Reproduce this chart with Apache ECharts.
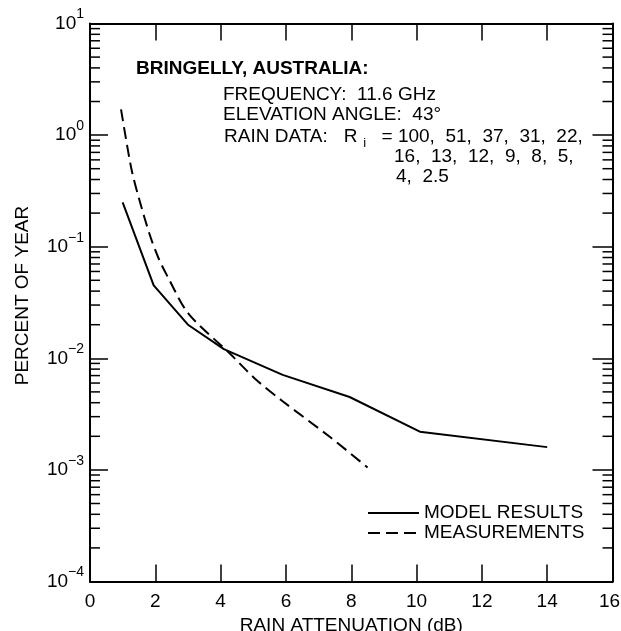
<!DOCTYPE html>
<html>
<head>
<meta charset="utf-8">
<script src="https://cdn.jsdelivr.net/npm/echarts@6/dist/echarts.min.js"></script>
<style>
  html, body { margin: 0; padding: 0; background: #fff; }
  #chart { width: 621px; height: 631px; }
</style>
</head>
<body>
<div id="chart"></div>
<script>
const FONT = '"Liberation Sans", Arial, Helvetica, sans-serif';

// Rain attenuation (dB) vs. percent of year exceeded
const modelAtten   = [1.0, 1.95, 3.0, 4.1, 5.9, 7.95, 10.1, 14.0];
const modelPercent = [0.25, 0.045, 0.020, 0.0121, 0.0071, 0.0045, 0.0022, 0.0016];

const measAtten   = [0.95, 1.1, 1.28, 1.5, 1.83, 2.09, 2.39, 3.02, 4.26, 5.07, 5.91, 7.37, 8.5];
const measPercent = [1.7, 0.93, 0.48, 0.27, 0.128, 0.080, 0.053, 0.025, 0.0112, 0.0065, 0.0041, 0.00195, 0.00105];

const seriesNames = ['MODEL RESULTS', 'MEASUREMENTS'];

// Axis ranges
const xMin = 0, xMax = 16, xStep = 2;
const yMin = 1e-4, yMax = 10;

// Intermediate log ticks (2..9 within each decade)
const minorTicks = [];
for (let k = -4; k <= 0; k++) {
  for (let m = 2; m <= 9; m++) {
    minorTicks.push(Number((m * Math.pow(10, k)).toPrecision(3)));
  }
}

const zip = (xs, ys) => xs.map((x, i) => [x, ys[i]]);

function decadeLabel(v) {
  const e = Math.round(Math.log10(v));
  const s = e < 0 ? '\u2212' + (-e) : String(e);
  return '{b|10}{s|' + s + '}';
}

function attenLabel(v) {
  // keep the last label inside the canvas
  return v === xMax ? '{e|' + v + '}' : String(v);
}

const axisLineStyle = { color: '#000', width: 2 };
const tickStyle = { color: '#000', width: 1.5 };
const MINOR_LEN = 10;
const clear = 'rgba(0,0,0,0)';

const chart = echarts.init(document.getElementById('chart'), null, { renderer: 'canvas' });

chart.setOption({
  animation: false,
  backgroundColor: '#fff',
  grid: { left: 90, right: 8.5, top: 23.5, bottom: 49.5, containLabel: false, outerBoundsMode: 'none' },
  legend: {
    data: seriesNames,
    orient: 'vertical',
    left: 367,
    top: 503,
    padding: 0,
    itemWidth: 51,
    itemHeight: 14,
    itemGap: 0,
    selectedMode: false,
    itemStyle: { color: clear, borderColor: clear, borderWidth: 0, opacity: 0 },
    textStyle: { fontSize: 19, fontFamily: FONT, color: '#000', lineHeight: 20 }
  },
  xAxis: [
    {
      type: 'value', min: xMin, max: xMax, interval: xStep, position: 'bottom',
      axisLine: { show: true, onZero: false, lineStyle: axisLineStyle },
      axisTick: { show: true, inside: true, length: 17, lineStyle: tickStyle },
      axisLabel: {
        fontSize: 19, fontFamily: FONT, color: '#000', margin: 11,
        formatter: attenLabel,
        rich: { e: { fontSize: 19, fontFamily: FONT, color: '#000', padding: [0, 6, 0, 0] } }
      },
      splitLine: { show: false },
      name: 'RAIN ATTENUATION (dB)', nameLocation: 'middle', nameGap: 28,
      nameTextStyle: { fontSize: 19, fontFamily: FONT, color: '#000' }
    },
    {
      type: 'value', min: xMin, max: xMax, interval: xStep, position: 'top',
      axisLine: { show: true, onZero: false, lineStyle: axisLineStyle },
      axisTick: { show: true, inside: true, length: 17, lineStyle: tickStyle },
      axisLabel: { show: false },
      splitLine: { show: false }
    }
  ],
  yAxis: [
    {
      type: 'log', logBase: 10, min: yMin, max: yMax, splitNumber: 5, position: 'left',
      axisLine: { show: true, onZero: false, lineStyle: axisLineStyle },
      axisTick: { show: true, inside: true, length: 18, lineStyle: tickStyle },
      axisLabel: {
        margin: 6, color: '#000', showMinLabel: true, showMaxLabel: true,
        formatter: decadeLabel,
        rich: {
          b: { fontSize: 19, fontFamily: FONT, color: '#000', lineHeight: 32, verticalAlign: 'middle' },
          s: { fontSize: 14, fontFamily: FONT, color: '#000', lineHeight: 14, verticalAlign: 'top' }
        }
      },
      splitLine: { show: false },
      name: 'PERCENT OF YEAR', nameLocation: 'middle', nameGap: 58, nameRotate: 90,
      nameTextStyle: { fontSize: 19, fontFamily: FONT, color: '#000', padding: [0, 0, 0, 14] }
    },
    {
      type: 'log', logBase: 10, min: yMin, max: yMax, splitNumber: 5, position: 'right',
      axisLine: { show: true, onZero: false, lineStyle: axisLineStyle },
      axisTick: { show: true, inside: true, length: 20, lineStyle: tickStyle },
      axisLabel: { show: false },
      splitLine: { show: false }
    }
  ],
  series: [
    {
      name: seriesNames[0], type: 'line', xAxisIndex: 0, yAxisIndex: 0,
      data: zip(modelAtten, modelPercent),
      symbol: 'none', silent: true,
      itemStyle: { color: '#000' },
      lineStyle: { color: '#000', width: 2 }
    },
    {
      name: seriesNames[1], type: 'line', xAxisIndex: 0, yAxisIndex: 0,
      data: zip(measAtten, measPercent),
      symbol: 'none', silent: true, smooth: 0.3,
      itemStyle: { color: '#000' },
      lineStyle: { color: '#000', width: 2, type: [12, 6] }
    },
    {
      name: 'log minor ticks', type: 'custom', xAxisIndex: 0, yAxisIndex: 0,
      silent: true, clip: false, z: 5,
      data: minorTicks.map(v => [xMin, v]),
      encode: { x: 0, y: 1 },
      renderItem: function (params, api) {
        const cs = params.coordSys;
        const y = api.coord([xMin, api.value(1)])[1];
        return {
          type: 'group',
          children: [
            { type: 'line', shape: { x1: cs.x, y1: y, x2: cs.x + MINOR_LEN, y2: y },
              style: { stroke: '#000', lineWidth: 1.5 } },
            { type: 'line', shape: { x1: cs.x + cs.width - MINOR_LEN, y1: y, x2: cs.x + cs.width, y2: y },
              style: { stroke: '#000', lineWidth: 1.5 } }
          ]
        };
      }
    }
  ],
  graphic: [
    { type: 'text', x: 136, y: 68.5,
      style: { text: 'BRINGELLY, AUSTRALIA:', fontSize: 19, fontWeight: 'bold', fontFamily: FONT,
               fill: '#000', align: 'left', verticalAlign: 'middle' } },
    { type: 'text', x: 223, y: 94.5,
      style: { text: 'FREQUENCY:  11.6 GHz', fontSize: 19, fontFamily: FONT,
               fill: '#000', align: 'left', verticalAlign: 'middle' } },
    { type: 'text', x: 223, y: 115,
      style: { text: 'ELEVATION ANGLE:  43\u00B0', fontSize: 19, fontFamily: FONT,
               fill: '#000', align: 'left', verticalAlign: 'middle' } },
    { type: 'text', x: 224, y: 136.5,
      style: {
        text: '{a|RAIN DATA:   R}{b|i}{a| = 100,  51,  37,  31,  22,}',
        align: 'left', verticalAlign: 'middle',
        rich: {
          a: { fontSize: 19, fontFamily: FONT, fill: '#000', lineHeight: 27, verticalAlign: 'middle' },
          b: { fontSize: 13, fontFamily: FONT, fill: '#000', lineHeight: 13, verticalAlign: 'bottom', padding: [0, 10, 0, 6] }
        }
      } },
    { type: 'text', x: 394, y: 156.5,
      style: { text: '16,  13,  12,  9,  8,  5,', fontSize: 19, fontFamily: FONT,
               fill: '#000', align: 'left', verticalAlign: 'middle' } },
    { type: 'text', x: 396, y: 177,
      style: { text: '4,  2.5', fontSize: 19, fontFamily: FONT,
               fill: '#000', align: 'left', verticalAlign: 'middle' } }
  ]
});
</script>
</body>
</html>
